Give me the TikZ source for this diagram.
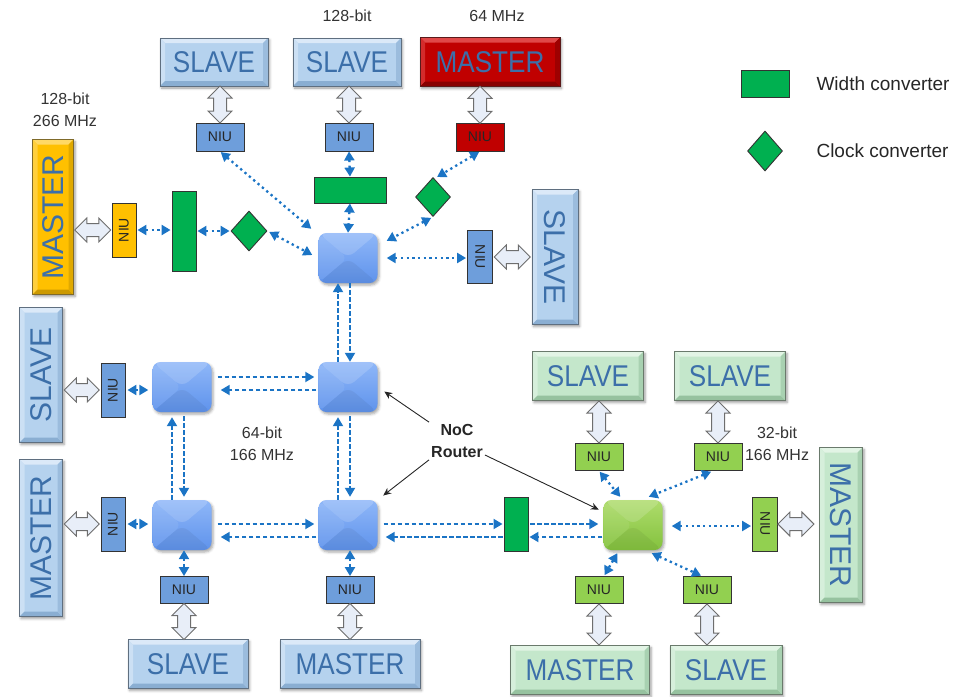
\documentclass[tikz,border=0pt]{standalone}
\usepackage{fontspec}
\setmainfont{Liberation Sans}
\newfontfamily\boxfont[FakeStretch=0.87]{Liberation Sans}
\usetikzlibrary{arrows.meta,shapes.geometric,shadows.blur,calc}

\definecolor{arrblue}{HTML}{1B74C5}
\definecolor{boxtext}{HTML}{3C6FA9}
\definecolor{bxblue}{HTML}{B5D2EE}
\definecolor{bxblueL}{HTML}{DBE9F8}
\definecolor{bxblueD}{HTML}{8AAED2}
\definecolor{bxblueE}{HTML}{5F6F80}
\definecolor{bxred}{HTML}{C00000}
\definecolor{bxredL}{HTML}{E04848}
\definecolor{bxredD}{HTML}{880000}
\definecolor{bxredE}{HTML}{5A1A1A}
\definecolor{bxyel}{HTML}{FFC000}
\definecolor{bxyelL}{HTML}{FFD966}
\definecolor{bxyelD}{HTML}{CC9900}
\definecolor{bxyelE}{HTML}{7F6A2A}
\definecolor{bxgrn}{HTML}{C4E7CB}
\definecolor{bxgrnL}{HTML}{E2F4E5}
\definecolor{bxgrnD}{HTML}{96C29F}
\definecolor{bxgrnE}{HTML}{6A7A6C}
\definecolor{niublue}{HTML}{6E9EDB}
\definecolor{niured}{HTML}{C00000}
\definecolor{niuyel}{HTML}{FFC000}
\definecolor{niugrn}{HTML}{92D050}
\definecolor{convgrn}{HTML}{00B050}
\definecolor{rtbT}{HTML}{8FB7F8}
\definecolor{rtbB}{HTML}{5F93EC}
\definecolor{rtgT}{HTML}{AEDC6C}
\definecolor{rtgB}{HTML}{84C23E}
\definecolor{blkfill}{HTML}{E8EEF8}
\definecolor{blkline}{HTML}{6E6E6E}

\newcommand\ppb{path picture bounding box}

\tikzset{
  % bevelled IP block: base, light edge, dark edge, outline
  box/.style={rectangle, inner sep=0pt, line width=0.9pt, text=boxtext,
    blur shadow={shadow xshift=1.5pt, shadow yshift=-2pt, shadow blur radius=2.5pt, shadow opacity=40}},
  bevel/.style n args={4}{fill=#1, draw=#4, path picture={
    \fill[#2] (\ppb.north west) -- (\ppb.north east) -- ([shift={(-5pt,-5pt)}]\ppb.north east) -- ([shift={(5pt,-5pt)}]\ppb.north west) -- cycle;
    \fill[#2!60!#1] (\ppb.north west) -- ([shift={(5pt,-5pt)}]\ppb.north west) -- ([shift={(5pt,5pt)}]\ppb.south west) -- (\ppb.south west) -- cycle;
    \fill[#3] (\ppb.south west) -- (\ppb.south east) -- ([shift={(-5pt,5pt)}]\ppb.south east) -- ([shift={(5pt,5pt)}]\ppb.south west) -- cycle;
    \fill[#3!60!#1] (\ppb.north east) -- ([shift={(-5pt,-5pt)}]\ppb.north east) -- ([shift={(-5pt,5pt)}]\ppb.south east) -- (\ppb.south east) -- cycle;
  }},
  bluebox/.style={box, bevel={bxblue}{bxblueL}{bxblueD}{bxblueE}},
  redbox/.style={box, bevel={bxred}{bxredL}{bxredD}{bxredE}},
  yelbox/.style={box, bevel={bxyel}{bxyelL}{bxyelD}{bxyelE}},
  grnbox/.style={box, bevel={bxgrn}{bxgrnL}{bxgrnD}{bxgrnE}},
  hlab/.style={font=\boxfont\fontsize{30}{30}\selectfont},
  vlab/.style={font=\fontsize{30}{30}\selectfont},
  % network interface units
  niu/.style={rectangle, draw=black!80, line width=0.9pt, inner sep=0pt,
    text=black!85, font=\fontsize{14}{14}\selectfont, fill=#1},
  niuh/.style={niu=#1, minimum width=48pt, minimum height=28pt},
  niuv/.style={niu=#1, minimum width=24pt, minimum height=54pt},
  % converters
  wconv/.style={rectangle, draw=black!80, line width=0.9pt, fill=convgrn, inner sep=0pt},
  cconv/.style={diamond, draw=black!80, line width=0.9pt, fill=convgrn, inner sep=0pt,
    minimum width=35pt, minimum height=39pt},
  % routers
  router/.style={rectangle, rounded corners=8pt, minimum width=59pt, minimum height=50pt,
    inner sep=0pt, top color=#1T, bottom color=#1B,
    blur shadow={shadow xshift=1.5pt, shadow yshift=-2pt, shadow blur radius=2.5pt, shadow opacity=35},
    path picture={
      \fill[white, opacity=.16] (\ppb.north west) -- (\ppb.north east) -- (\ppb.center) -- cycle;
      \fill[white, opacity=.07] (\ppb.north west) -- (\ppb.south west) -- (\ppb.center) -- cycle;
      \fill[black, opacity=.05] (\ppb.south west) -- (\ppb.south east) -- (\ppb.center) -- cycle;
    }},
  % links
  dotarr/.style={draw=arrblue, line width=2.3pt, dash pattern=on 2.3pt off 3.4pt,
    {Triangle[width=10pt,length=9pt]}-{Triangle[width=10pt,length=9pt]}},
  dasharr/.style={draw=arrblue, line width=1.9pt, dash pattern=on 4.5pt off 2.5pt,
    -{Triangle[width=10pt,length=9pt]}},
  annarr/.style={draw=black!85, line width=0.9pt, -{Stealth[length=8pt,width=7pt]}},
  blkstyle/.style={draw=blkline, fill=blkfill, line width=1pt, line join=miter},
  lbl/.style={font=\fontsize{16}{22}\selectfont, text=black!80, align=center},
  pics/dblarrow/.style={code={
    \pgfmathsetmacro\halflen{#1/2}
    \draw[blkstyle] ({-\halflen},0) -- ({-\halflen+12},-12) -- ({-\halflen+12},-6.5)
      -- ({\halflen-12},-6.5) -- ({\halflen-12},-12) -- ({\halflen},0)
      -- ({\halflen-12},12) -- ({\halflen-12},6.5) -- ({-\halflen+12},6.5)
      -- ({-\halflen+12},12) -- cycle;
  }},
}

\begin{document}
\begin{tikzpicture}[x=1pt,y=-1pt]
\useasboundingbox (0,0) rectangle (957,696);

% ---------- upper cluster ----------
\node[bluebox, hlab, minimum width=108pt, minimum height=48pt] (s1) at (214,62) {SLAVE};
\node[bluebox, hlab, minimum width=108pt, minimum height=48pt] (s2) at (347,62) {SLAVE};
\node[redbox, hlab, minimum width=140pt, minimum height=49pt] (m1) at (490,62) {MASTER};
\node[niuh=niublue] (n1) at (220,137) {NIU};
\node[niuh=niublue] (n2) at (349,137) {NIU};
\node[niuh=niured] (n3) at (480,137) {NIU};
\node[wconv, minimum width=72pt, minimum height=26pt] (wc2) at (350,190) {};
\node[cconv] (cl2) at (433,197) {};
\node[router=rtb] (rt) at (348,258) {};

\node[yelbox, vlab, minimum width=41pt, minimum height=155pt] (my) at (53,217) {\rotatebox{90}{MASTER}};
\node[niuv=niuyel] (ny) at (124,230) {\rotatebox{90}{NIU}};
\node[wconv, minimum width=24pt, minimum height=80pt] (wc1) at (184,231) {};
\node[cconv, minimum width=36pt, minimum height=40pt] (cl1) at (249,231) {};

\node[niuv=niublue, minimum width=25pt, minimum height=53pt] (nr) at (480,257) {\rotatebox{-90}{NIU}};
\node[bluebox, vlab, minimum width=46pt, minimum height=135pt] (sr) at (555,257) {\rotatebox{-90}{SLAVE}};

% ---------- 2x2 router mesh ----------
\node[router=rtb] (rml) at (182,387) {};
\node[router=rtb] (rmr) at (348,387) {};
\node[router=rtb] (rbl) at (182,525) {};
\node[router=rtb] (rbr) at (348,525) {};

\node[bluebox, vlab, minimum width=43pt, minimum height=135pt] (sl) at (41,375) {\rotatebox{90}{SLAVE}};
\node[niuv=niublue] (nsl) at (113,390) {\rotatebox{90}{NIU}};
\node[bluebox, vlab, minimum width=43pt, minimum height=157pt] (ml) at (41,538) {\rotatebox{90}{MASTER}};
\node[niuv=niublue] (nml) at (113,524) {\rotatebox{90}{NIU}};
\node[niuh=niublue, minimum height=27pt] (nbl) at (184,590) {NIU};
\node[niuh=niublue, minimum height=27pt] (nbr) at (350,590) {NIU};
\node[bluebox, hlab, minimum width=120pt, minimum height=49pt] (sb) at (188,664) {SLAVE};
\node[bluebox, hlab, minimum width=140pt, minimum height=49pt] (mb) at (350,664) {MASTER};

% ---------- 32-bit cluster ----------
\node[wconv, minimum width=24pt, minimum height=54pt] (wc3) at (516,524) {};
\node[router=rtg] (gr) at (633,525) {};
\node[grnbox, hlab, minimum width=111pt, minimum height=49pt] (gs1) at (588,376) {SLAVE};
\node[grnbox, hlab, minimum width=111pt, minimum height=49pt] (gs2) at (730,376) {SLAVE};
\node[niuh=niugrn, minimum height=27pt] (gn1) at (599,457) {NIU};
\node[niuh=niugrn, minimum height=27pt] (gn2) at (718,457) {NIU};
\node[niuv=niugrn, minimum width=25pt] (gnr) at (765,524) {\rotatebox{-90}{NIU}};
\node[grnbox, vlab, minimum width=43pt, minimum height=155pt] (gmr) at (841,525) {\rotatebox{-90}{MASTER}};
\node[niuh=niugrn, minimum height=27pt] (gn3) at (599,590) {NIU};
\node[niuh=niugrn, minimum height=27pt] (gn4) at (707,590) {NIU};
\node[grnbox, hlab, minimum width=139pt, minimum height=49pt] (gmb) at (580,670) {MASTER};
\node[grnbox, hlab, minimum width=112pt, minimum height=49pt] (gsb) at (726,670) {SLAVE};

% ---------- text labels ----------
\node[lbl] (t128) at (347,16) {128-bit};
\node[lbl] (t64) at (497,16) {64 MHz};
\node[lbl] (tyl) at (65,110) {128-bit\\266 MHz};
\node[lbl] (tmid) at (262,444) {64-bit\\166 MHz};
\node[lbl] (tgr) at (777,444) {32-bit\\166 MHz};
\node[font=\bfseries\fontsize{16}{22}\selectfont, text=black!85, align=center, inner sep=2pt] (noc) at (457,441) {NoC\\Router};

% ---------- legend ----------
\node[wconv, minimum width=48pt, minimum height=27pt] (lwc) at (765,84) {};
\node[cconv, minimum width=35pt, minimum height=40pt] (lcl) at (765,151) {};
\node[anchor=west, font=\fontsize{19}{19}\selectfont, text=black!85] (lwct) at (813,84) {Width converter};
\node[anchor=west, font=\fontsize{19}{19}\selectfont, text=black!85] (lclt) at (813,151) {Clock converter};

% ---------- block arrows between IP blocks and NIUs ----------
\pic[rotate=90] at ($(n1.north)!.5!(n1.north |- s1.south)$) {dblarrow=37};
\pic[rotate=90] at ($(n2.north)!.5!(n2.north |- s2.south)$) {dblarrow=37};
\pic[rotate=90] at ($(n3.north)!.5!(n3.north |- m1.south)$) {dblarrow=37};
\pic at ($(ny.west)!.5!(ny.west -| my.east)$) {dblarrow=36};
\pic at ($(nr.east)!.5!(nr.east -| sr.west)$) {dblarrow=36};
\pic at ($(nsl.west)!.5!(nsl.west -| sl.east)$) {dblarrow=35};
\pic at ($(nml.west)!.5!(nml.west -| ml.east)$) {dblarrow=35};
\pic[rotate=90] at ($(nbl.south)!.5!(nbl.south |- sb.north)$) {dblarrow=36};
\pic[rotate=90] at ($(nbr.south)!.5!(nbr.south |- mb.north)$) {dblarrow=36};
\pic[rotate=90] at ($(gn1.north)!.5!(gn1.north |- gs1.south)$) {dblarrow=42};
\pic[rotate=90] at ($(gn2.north)!.5!(gn2.north |- gs2.south)$) {dblarrow=42};
\pic at ([xshift=18pt]gnr.east) {dblarrow=36};
\pic[rotate=90] at ($(gn3.south)!.5!(gn3.south |- gmb.north)$) {dblarrow=41};
\pic[rotate=90] at ($(gn4.south)!.5!(gn4.south |- gsb.north)$) {dblarrow=41};

% ---------- dotted NIU / converter links ----------
\draw[dotarr, shorten <=1pt] (n1.south) -- ([shift={(-7pt,4pt)}]rt.north west);
\draw[dotarr, shorten <=2pt] (cl1.east) -- ([shift={(-6pt,3pt)}]rt.west);
\draw[dotarr, shorten <=1pt, shorten >=1pt] (ny.east) -- (ny.east -| wc1.west);
\draw[dotarr, shorten <=1pt, shorten >=1pt] (wc1.east) -- (cl1.west);
\draw[dotarr] (n2.south) -- (wc2.north);
\draw[dotarr] (wc2.south) -- (rt.north);
\draw[dotarr, shorten <=1pt] (n3.south) -- ([xshift=4pt]cl2.north);
\draw[dotarr, shorten <=2pt] (cl2.south) -- ([shift={(9pt,-8pt)}]rt.north east);
\draw[dotarr, shorten <=9pt, shorten >=1pt] (rt.east) -- (rt.east -| nr.west);
\draw[dotarr, shorten <=2pt, shorten >=4pt] (nsl.east) -- (nsl.east -| rml.west);
\draw[dotarr, shorten <=2pt, shorten >=4pt] (nml.east) -- (nml.east -| rbl.west);
\draw[dotarr] (nbl.north |- rbl.south) -- (nbl.north);
\draw[dotarr] (nbr.north |- rbr.south) -- (nbr.north);

\draw[dotarr, shorten <=1pt] (gn1.south) -- ([shift={(17pt,3pt)}]gr.north west);
\draw[dotarr, shorten <=2pt] ([xshift=-5pt]gn2.south) -- ([shift={(-14pt,3pt)}]gr.north east);
\draw[dotarr, shorten <=9pt, shorten >=1pt] ([yshift=-1pt]gr.east) -- ([yshift=-1pt]gr.east -| gnr.west);
\draw[dotarr, shorten >=1pt] ([shift={(14pt,-3pt)}]gr.south west) -- ([xshift=5pt]gn3.north);
\draw[dotarr, shorten >=1pt] ([shift={(-11pt,-3pt)}]gr.south east) -- ([xshift=-5pt]gn4.north);

% ---------- dashed router-to-router links ----------
\draw[dasharr] ([xshift=-10pt]rmr.north) -- ([xshift=-10pt]rt.south);
\draw[dasharr] ([xshift=2pt]rt.south) -- ([xshift=2pt]rmr.north);
\draw[dasharr, shorten >=5pt] ([xshift=-10pt]rbl.north) -- ([xshift=-10pt]rml.south);
\draw[dasharr, shorten <=4pt, shorten >=3pt] ([xshift=2pt]rml.south) -- ([xshift=2pt]rbl.north);
\draw[dasharr, shorten >=5pt] ([xshift=-10pt]rbr.north) -- ([xshift=-10pt]rmr.south);
\draw[dasharr, shorten <=4pt, shorten >=3pt] ([xshift=2pt]rmr.south) -- ([xshift=2pt]rbr.north);
\draw[dasharr, shorten <=6pt, shorten >=4pt] ([yshift=10pt]rml.east) -- ([yshift=10pt]rmr.west);
\draw[dasharr, shorten <=2pt, shorten >=9pt] ([yshift=-3pt]rmr.west) -- ([yshift=-3pt]rml.east);
\draw[dasharr, shorten <=6pt, shorten >=4pt] ([yshift=1pt]rbl.east) -- ([yshift=1pt]rbr.west);
\draw[dasharr, shorten <=2pt, shorten >=9pt] ([yshift=-12pt]rbr.west) -- ([yshift=-12pt]rbl.east);
\draw[dasharr, shorten <=6pt, shorten >=1pt] ([yshift=1pt]rbr.east) -- (wc3.west);
\draw[dasharr, shorten <=2pt, shorten >=5pt] (wc3.east) -- ([yshift=1pt]gr.west);
\draw[dasharr, shorten <=1pt, shorten >=1pt] ([yshift=-12pt]gr.west) -- ([yshift=-13pt]wc3.east);
\draw[dasharr, shorten <=1pt, shorten >=8pt] ([yshift=-13pt]wc3.west) -- ([yshift=-12pt]rbr.east);

% ---------- router callouts ----------
\draw[annarr, shorten >=8pt] (noc.north west) -- (rmr.east);
\draw[annarr, shorten >=7pt] (noc.south west) -- (rbr.north east);
\draw[annarr, shorten >=5pt] ([yshift=-14pt]noc.east) -- ([yshift=-12pt]gr.north west);
\end{tikzpicture}
\end{document}
